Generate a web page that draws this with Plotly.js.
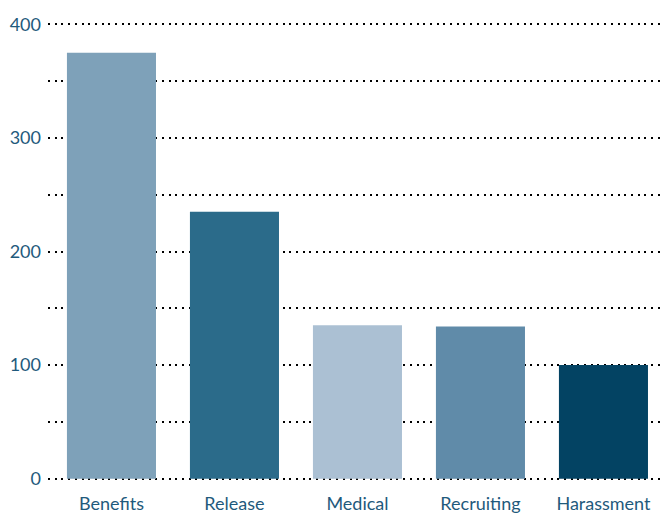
<!DOCTYPE html>
<html><head><meta charset="utf-8">
<script src="https://cdn.plot.ly/plotly-3.0.1.min.js"></script>
<style>html,body{margin:0;padding:0;background:#fff}</style>
</head><body>
<div id="chart" style="width:662px;height:515px"></div>
<script>
const categories = ["Benefits", "Release", "Medical", "Recruiting", "Harassment"];
const values = [375, 235, 135, 134, 100];
const barColors = ["#7ea1b9", "#2b6b8a", "#abc0d3", "#608ba9", "#034363"];
const yTicks = [0, 100, 200, 300, 400];

const textColor = "#1f5a7c";
Plotly.newPlot("chart", [{
  type: "bar",
  x: categories,
  y: values,
  marker: {color: barColors},
  hoverinfo: "skip"
}], {
  width: 662, height: 515,
  margin: {l: 48, r: 0, t: 22, b: 34, pad: 0},
  paper_bgcolor: "#fff", plot_bgcolor: "#fff",
  bargap: 0.276,
  showlegend: false,
  font: {family: "Lato, 'Open Sans', sans-serif", size: 18, color: textColor},
  xaxis: {
    range: [-0.516, 4.476],
    showgrid: false, zeroline: false, showline: false, ticks: "",
    ticklabelstandoff: 10,
    tickfont: {size: 18, color: textColor}
  },
  yaxis: {
    range: [-2, 402],
    tickvals: yTicks,
    ticktext: yTicks.map(String),
    showgrid: true, gridcolor: "#000", gridwidth: 2, griddash: "2px,4.7px",
    minor: {dtick: 50, tick0: 0, showgrid: true, gridcolor: "#000", gridwidth: 2, griddash: "2px,4.7px"},
    zeroline: false, showline: false, ticks: "",
    ticklabelstandoff: 6,
    tickfont: {size: 18, color: textColor}
  }
}, {staticPlot: true});
</script>
</body></html>
